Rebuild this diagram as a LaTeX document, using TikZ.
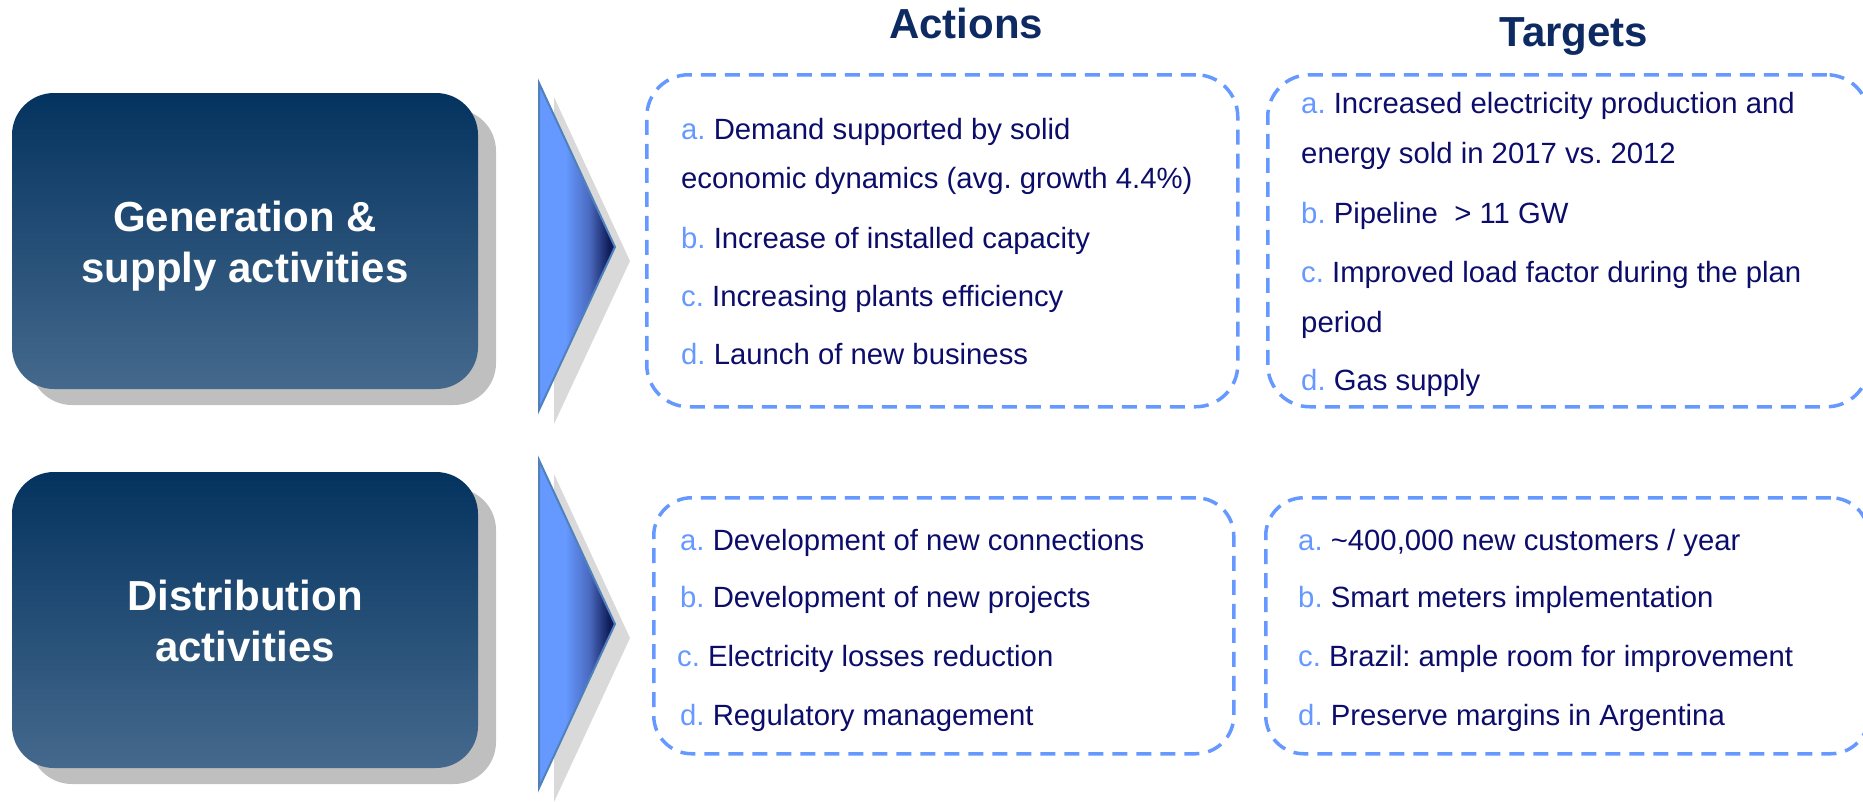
\documentclass[tikz,border=0pt]{standalone}
\usepackage{fontspec}
\setmainfont{Liberation Sans}
\frenchspacing
\definecolor{navytxt}{HTML}{0C0C6A}
\definecolor{lbl}{HTML}{6699FF}
\definecolor{dashc}{HTML}{6699FF}
\definecolor{hdr}{HTML}{0D2A62}
\definecolor{boxtop}{HTML}{04335F}
\definecolor{boxbot}{HTML}{45698D}
\definecolor{shad}{HTML}{BFBFBF}
\definecolor{arshad}{HTML}{D9D9D9}
\definecolor{al}{HTML}{6699FF}
\definecolor{am}{HTML}{4A6AC0}
\definecolor{ad}{HTML}{101C58}
\definecolor{arborder}{HTML}{4F81BD}
\pgfdeclarehorizontalshading{arrowshade}{100bp}{color(0bp)=(al); color(25bp)=(al); color(42bp)=(al); color(58bp)=(am); color(71bp)=(ad); color(100bp)=(ad)}
\newcommand{\itl}[1]{{\color{lbl}#1}}
\begin{document}
\begin{tikzpicture}[x=1pt,y=-1pt,
  shadowbox/.style={rectangle, rounded corners=42pt, minimum width=466pt, minimum height=296pt, fill=shad, inner sep=0pt},
  leftbox/.style={rectangle, rounded corners=42pt, minimum width=466pt, minimum height=296pt, top color=boxtop, bottom color=boxbot, inner sep=0pt},
  boxtxt/.style={text=white, font=\fontsize{42}{50}\selectfont\bfseries, anchor=base, inner sep=0pt},
  hdrtxt/.style={text=hdr, font=\fontsize{42}{50}\selectfont\bfseries, anchor=base, inner sep=0pt},
  dashbox/.style={draw=dashc, line width=3.5pt, dash pattern=on 15pt off 9pt, rounded corners=42pt, anchor=north west, inner sep=0pt},
  item/.style={text=navytxt, font=\fontsize{29.3}{35}\selectfont, anchor=base west, inner sep=0pt},
  arrowshadow/.style={fill=arshad},
  arrowbody/.style={shading=arrowshade, draw=arborder, line width=2pt, line join=miter}
]
\useasboundingbox (0,0) rectangle (1863,801);

% headers
\node[hdrtxt] (hact) at (966,38) {Actions};
\node[hdrtxt] (htgt) at (1574,46) {Targets};

% left boxes with shadows
\node[shadowbox] (gensh) at (263,257) {};
\node[leftbox] (gen) at (245,241) {};
\node[boxtxt] (gent1) at (245,231) {Generation \&};
\node[boxtxt] (gent2) at (245,282) {supply activities};

\node[shadowbox] (dissh) at (263,636) {};
\node[leftbox] (dis) at (245,620) {};
\node[boxtxt] (dist1) at (245,610) {Distribution};
\node[boxtxt] (dist2) at (245,661) {activities};

% chevron arrows
\coordinate (a1t) at (539,83);
\coordinate (a1p) at (615,247);
\coordinate (a1b) at (539,410);
\fill[arrowshadow] ([shift={(15,14)}]a1t) -- ([shift={(15,14)}]a1p) -- ([shift={(15,14)}]a1b) -- cycle;
\path[arrowbody] (a1t) -- (a1p) -- (a1b) -- cycle;

\coordinate (a2t) at (539,460);
\coordinate (a2p) at (615,624);
\coordinate (a2b) at (539,788);
\fill[arrowshadow] ([shift={(15,14)}]a2t) -- ([shift={(15,14)}]a2p) -- ([shift={(15,14)}]a2b) -- cycle;
\path[arrowbody] (a2t) -- (a2p) -- (a2b) -- cycle;

% dashed boxes
\node[dashbox, minimum width=591pt, minimum height=332pt] (act1) at (645,73) {};
\node[dashbox, minimum width=601pt, minimum height=332pt] (tgt1) at (1266,73) {};
\node[dashbox, rounded corners=38pt, minimum width=580pt, minimum height=256pt] (act2) at (652,496) {};
\node[dashbox, rounded corners=38pt, minimum width=603pt, minimum height=256pt] (tgt2) at (1264,496) {};

% action items row 1
\node[item] (a1a) at (681,139) {\itl{a.} Demand supported by solid};
\node[item] (a1a2) at (681,188) {economic dynamics (avg. growth 4.4\%)};
\node[item] (a1b) at (681,248) {\itl{b.} Increase of installed capacity};
\node[item] (a1c) at (681,306) {\itl{c.} Increasing plants efficiency};
\node[item] (a1d) at (681,364) {\itl{d.} Launch of new business};

% target items row 1
\node[item] (t1a) at (1301,113) {\itl{a.} Increased electricity production and};
\node[item] (t1a2) at (1301,163) {energy sold in 2017 vs. 2012};
\node[item] (t1b) at (1301,223) {\itl{b.} Pipeline\ \ > 11 GW};
\node[item] (t1c) at (1301,282) {\itl{c.} Improved load factor during the plan};
\node[item] (t1c2) at (1301,332) {period};
\node[item] (t1d) at (1301,390) {\itl{d.} Gas supply};

% action items row 2
\node[item] (a2a) at (680,550) {\itl{a.} Development of new connections};
\node[item] (a2b) at (680,607) {\itl{b.} Development of new projects};
\node[item] (a2c) at (677,666) {\itl{c.} Electricity losses reduction};
\node[item] (a2d) at (680,725) {\itl{d.} Regulatory management};

% target items row 2
\node[item] (t2a) at (1298,550) {\itl{a.} \textasciitilde400,000 new customers / year};
\node[item] (t2b) at (1298,607) {\itl{b.} Smart meters implementation};
\node[item] (t2c) at (1298,666) {\itl{c.} Brazil: ample room for improvement};
\node[item] (t2d) at (1298,725) {\itl{d.} Preserve margins in Argentina};
\end{tikzpicture}
\end{document}
